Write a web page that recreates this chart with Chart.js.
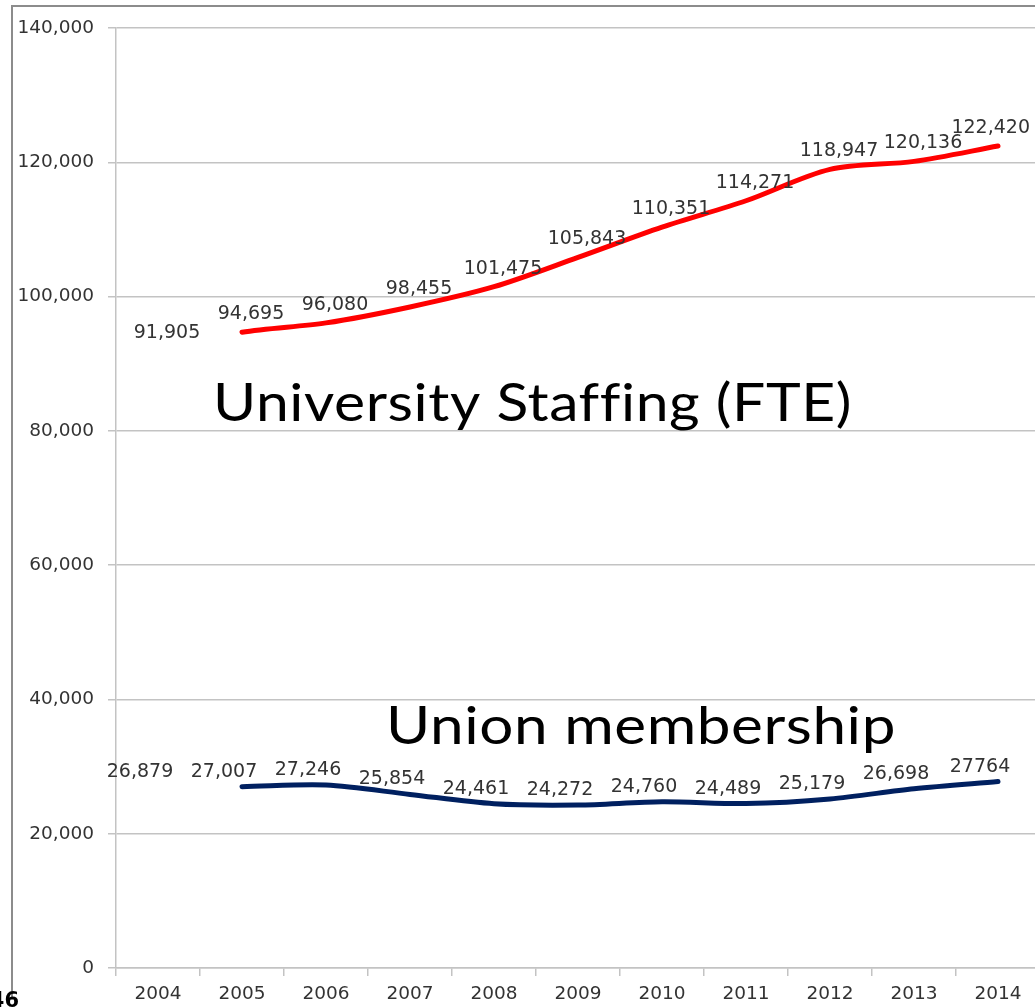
<!DOCTYPE html>
<html>
<head>
<meta charset="utf-8">
<title>University Staffing vs Union membership</title>
<script src="https://cdn.jsdelivr.net/npm/chart.js@4/dist/chart.umd.min.js"></script>
<style>
    html, body { margin: 0; padding: 0; background: #fff; overflow: hidden; }
    #chart { display: block; }
</style>
</head>
<body>
<canvas id="chart" width="1045" height="1007"></canvas>
<script>
var years = ['2004', '2005', '2006', '2007', '2008', '2009', '2010', '2011', '2012', '2013', '2014'];
var staffing = [91905, 94695, 96080, 98455, 101475, 105843, 110351, 114271, 118947, 120136, 122420];
var union = [26879, 27007, 27246, 25854, 24461, 24272, 24760, 24489, 25179, 26698, 27764];
var yTicks = [0, 20000, 40000, 60000, 80000, 100000, 120000, 140000];

var fmt = function (v) {
    return v.toLocaleString('en-US');
};
var staffingText = staffing.map(fmt);
// last union label is printed without a comma in the original
var unionText = union.map(function (v, i) {
    return i === union.length - 1 ? String(v) : fmt(v);
});

var numFont = '19px "DejaVu Sans"';
var textColor = '#333333';
var gridColor = '#c3c3c3';
var visibleWidth = 1035;

// hides the segment before 2005, which the original does not draw
var hideFirst = function (ctx) {
    return ctx.p0DataIndex === 0 ? 'rgba(0,0,0,0)' : undefined;
};

var frame = {
    id: 'frame',
    beforeDraw: function (chart) {
        var ctx = chart.ctx;
        ctx.save();
        ctx.strokeStyle = '#8c8c8c';
        ctx.lineWidth = 2;
        ctx.beginPath();
        ctx.moveTo(12, 1000);
        ctx.lineTo(12, 6);
        ctx.lineTo(chart.width, 6);
        ctx.stroke();
        ctx.restore();
    }
};

var valueLabels = {
    id: 'valueLabels',
    afterDatasetsDraw: function (chart) {
        var ctx = chart.ctx;
        ctx.save();
        ctx.font = numFont;
        ctx.fillStyle = textColor;
        ctx.textAlign = 'center';
        ctx.textBaseline = 'middle';
        chart.data.datasets.forEach(function (ds, d) {
            var meta = chart.getDatasetMeta(d);
            meta.data.forEach(function (pt, i) {
                var text = ds.valueText[i];
                var half = ctx.measureText(text).width / 2;
                var x = Math.min(pt.x + ds.labelDx, visibleWidth - 5 - half);
                ctx.fillText(text, x, pt.y - ds.labelDy);
            });
        });
        ctx.restore();
    }
};

var bigText = function (ctx, text, left, baseline, width) {
    ctx.font = '52px Lato';
    ctx.letterSpacing = '0.5px'; // keeps "ffi" from turning into a ligature
    var w = ctx.measureText(text).width;
    ctx.save();
    ctx.translate(left, baseline);
    ctx.scale(width / w, 1);
    ctx.fillText(text, 0, 0);
    ctx.restore();
};

var annotations = {
    id: 'annotations',
    afterDraw: function (chart) {
        var ctx = chart.ctx;
        ctx.save();
        ctx.fillStyle = '#000';
        ctx.textAlign = 'left';
        ctx.textBaseline = 'alphabetic';
        bigText(ctx, 'University Staffing (FTE)', 213, 421, 639);
        bigText(ctx, 'Union membership', 386, 744, 510);
        ctx.letterSpacing = '0px';
        ctx.font = 'bold 21px "DejaVu Sans"';
        ctx.textAlign = 'right';
        ctx.textBaseline = 'top';
        ctx.fillText('46', 19, 991);
        ctx.restore();
    }
};

var context = document.getElementById('chart');
var chart = new Chart(context, {
    type: 'line',
    data: {
        labels: years,
        datasets: [
            {
                label: 'University Staffing (FTE)',
                data: staffing,
                valueText: staffingText,
                labelDx: 9,
                labelDy: 18,
                borderColor: '#ff0000',
                borderWidth: 5,
                borderCapStyle: 'round',
                tension: 0.3,
                pointRadius: 0,
                segment: { borderColor: hideFirst }
            },
            {
                label: 'Union membership',
                data: union,
                valueText: unionText,
                labelDx: -18,
                labelDy: 15,
                borderColor: '#002060',
                borderWidth: 5,
                borderCapStyle: 'round',
                tension: 0.3,
                pointRadius: 0,
                segment: { borderColor: hideFirst }
            }
        ]
    },
    options: {
        responsive: false,
        animation: false,
        devicePixelRatio: 1,
        layout: { padding: { top: 28, right: 5, bottom: 0, left: 0 } },
        plugins: {
            legend: { display: false },
            tooltip: { enabled: false }
        },
        scales: {
            x: {
                offset: true,
                grid: {
                    offset: true,
                    drawOnChartArea: false,
                    drawTicks: true,
                    tickLength: 8,
                    color: gridColor,
                    lineWidth: 1.5
                },
                border: { color: gridColor, width: 1.5 },
                ticks: {
                    font: { family: 'DejaVu Sans', size: 18.5 },
                    color: textColor,
                    padding: 7,
                    maxRotation: 0,
                    autoSkip: false
                },
                afterFit: function (scale) {
                    scale.height = 39;
                }
            },
            y: {
                min: 0,
                max: 140000,
                afterBuildTicks: function (scale) {
                    scale.ticks = yTicks.map(function (v) {
                        return { value: v };
                    });
                },
                grid: {
                    color: gridColor,
                    lineWidth: 1.5,
                    tickLength: 8
                },
                border: { color: gridColor, width: 1.5 },
                ticks: {
                    font: { family: 'DejaVu Sans', size: 18.5 },
                    color: textColor,
                    padding: 14,
                    callback: function (v) {
                        return fmt(v);
                    }
                },
                afterFit: function (scale) {
                    scale.width = 116;
                }
            }
        }
    },
    plugins: [frame, valueLabels, annotations]
});
</script>
</body>
</html>
